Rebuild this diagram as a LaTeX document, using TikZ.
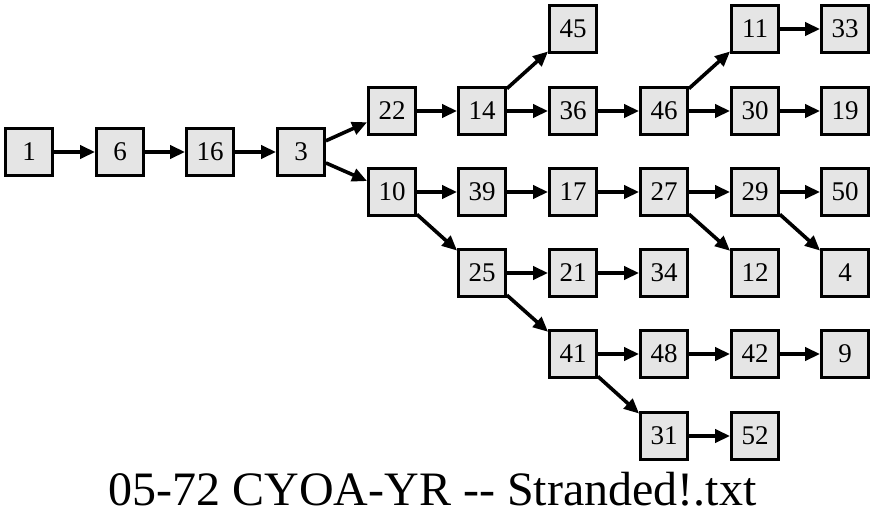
\documentclass[tikz,border=0pt]{standalone}
\usepackage{fontspec}
\setmainfont{Liberation Serif}
\usetikzlibrary{arrows.meta}
\begin{document}
\begin{tikzpicture}[x=1pt,y=-1pt,
  page/.style={draw=black, fill=gray!20, line width=2.8pt, rectangle,
    minimum width=47pt, minimum height=47pt, inner sep=0pt,
    font=\fontsize{27}{30}\selectfont},
  link/.style={line width=3.6pt, -{Triangle[length=15pt,width=13pt]}}]
\useasboundingbox (0,0) rectangle (875,524);
% story pages, column by column
\node[page] (n1)  at (29,152)  {1};
\node[page] (n6)  at (120,152) {6};
\node[page] (n16) at (210,152) {16};
\node[page] (n3)  at (301,152) {3};
\node[page] (n22) at (392,111) {22};
\node[page] (n10) at (392,192) {10};
\node[page] (n14) at (482,111) {14};
\node[page] (n39) at (482,192) {39};
\node[page] (n25) at (482,273) {25};
\node[page] (n45) at (573,29)  {45};
\node[page] (n36) at (573,111) {36};
\node[page] (n17) at (573,192) {17};
\node[page] (n21) at (573,273) {21};
\node[page] (n41) at (573,354) {41};
\node[page] (n46) at (664,111) {46};
\node[page] (n27) at (664,192) {27};
\node[page] (n34) at (664,273) {34};
\node[page] (n48) at (664,354) {48};
\node[page] (n31) at (664,436) {31};
\node[page] (n11) at (755,29)  {11};
\node[page] (n30) at (755,111) {30};
\node[page] (n29) at (755,192) {29};
\node[page] (n12) at (755,273) {12};
\node[page] (n42) at (755,354) {42};
\node[page] (n52) at (755,436) {52};
\node[page] (n33) at (845,29)  {33};
\node[page] (n19) at (845,111) {19};
\node[page] (n50) at (845,192) {50};
\node[page] (n4)  at (845,273) {4};
\node[page] (n9)  at (845,354) {9};
% choices between pages
\foreach \a/\b in {n1/n6, n6/n16, n16/n3, n3/n22, n3/n10, n22/n14,
  n14/n45, n14/n36, n36/n46, n46/n11, n46/n30, n11/n33, n30/n19,
  n10/n39, n10/n25, n39/n17, n17/n27, n27/n29, n27/n12, n29/n50,
  n29/n4, n25/n21, n25/n41, n21/n34, n41/n48, n41/n31, n48/n42,
  n42/n9, n31/n52}
  \draw[link] (\a) -- (\b);
% title (the kern keeps the two hyphens from joining into a dash)
\node[anchor=base, inner sep=0pt, font=\fontsize{48}{56}\selectfont]
  (title) at (432.5,505) {05-72 CYOA-YR -\kern0pt- Stranded!.txt};
\end{tikzpicture}
\end{document}
